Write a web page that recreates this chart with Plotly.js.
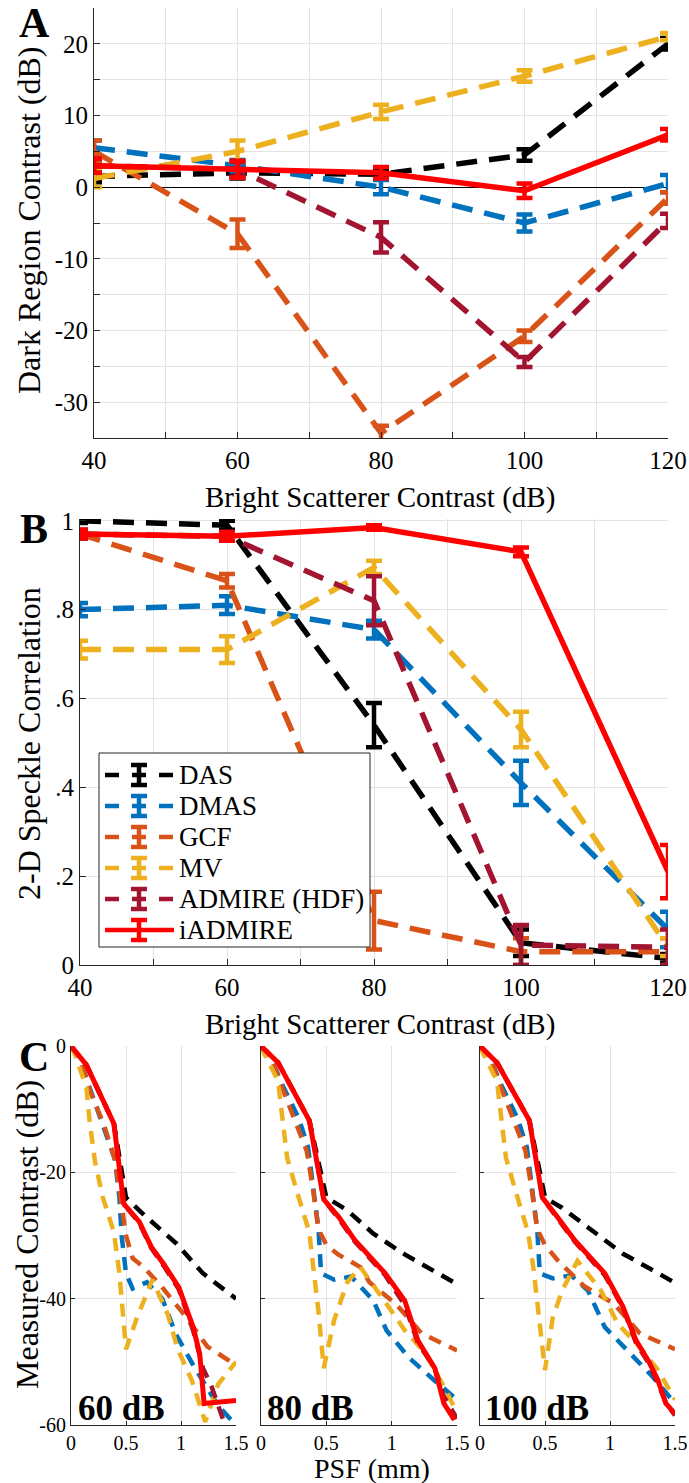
<!DOCTYPE html>
<html><head><meta charset="utf-8">
<script src="https://cdn.plot.ly/plotly-3.0.1.min.js"></script>
<style>html,body{margin:0;padding:0;background:#fff}</style>
</head><body><div id="chart" style="width:689px;height:1483px"></div>
<script>
// ---------- DATA ----------
const methods = ['DAS','DMAS','GCF','MV','ADMIRE (HDF)','iADMIRE'];
const methodColors = ['#000000','#0072BD','#D95319','#EDB120','#A2142F','#FF0000'];
const brightContrast = [40,60,80,100,120];

// Panel A: dark region contrast (dB)
const darkDAS = [1.5, 2, 1.8, 4.5, 20];
const darkDAS_err = [0.8, 0.8, 0.5, 0.8, 0.8];
const darkDMAS = [5.5, 3, 0, -5, 0.5];
const darkDMAS_err = [1, 0.8, 1, 1.2, 1.2];
const darkGCF = [5, -6.5, -34.3, -20.8, -1.5];
const darkGCF_err = [1.5, 2, 1, 0.8, 0.8];
const darkMV = [1.2, 5, 10.5, 15.5, 21];
const darkMV_err = [1.2, 1.5, 1, 0.8, 0.5];
const darkADMIRE = [3, 2.5, -7, -24.4, -4.7];
const darkADMIRE_err = [1, 1, 2.1, 0.7, 1];
const darkIADMIRE = [3, 2.5, 2, -0.5, 7.3];
const darkIADMIRE_err = [1, 1.2, 0.8, 1, 0.8];

// Panel B: 2-D speckle correlation
const corrDAS = [1.0, 0.99, 0.54, 0.05, 0.015];
const corrDAS_err = [0.005, 0.01, 0.05, 0.03, 0.01];
const corrDMAS = [0.80, 0.81, 0.755, 0.41, 0.08];
const corrDMAS_err = [0.015, 0.02, 0.02, 0.05, 0.04];
const corrGCF = [0.97, 0.865, 0.10, 0.03, 0.03];
const corrGCF_err = [0.01, 0.015, 0.065, 0.03, 0.03];
const corrMV = [0.71, 0.71, 0.895, 0.53, 0.04];
const corrMV_err = [0.02, 0.03, 0.015, 0.04, 0.02];
const corrADMIRE = [0.97, 0.965, 0.82, 0.045, 0.04];
const corrADMIRE_err = [0.01, 0.01, 0.055, 0.045, 0.04];
const corrIADMIRE = [0.97, 0.965, 0.985, 0.93, 0.21];
const corrIADMIRE_err = [0.01, 0.01, 0.005, 0.01, 0.06];

// Panel C: PSF profiles (x in mm, y in dB)
const psf60_DAS_x = [0, 0.14, 0.39, 0.48, 0.5, 0.68, 0.96, 1.2, 1.5];
const psf60_DAS_y = [0, -3, -12.3, -22, -24, -27, -31.3, -36, -40];
const psf60_DMAS_x = [0, 0.1, 0.17, 0.29, 0.4, 0.44, 0.46, 0.5, 0.56, 0.69, 0.83, 0.95, 1.12, 1.34, 1.5];
const psf60_DMAS_y = [0, -3, -6.6, -12.3, -18, -24, -30, -36, -38.4, -37.4, -40, -45.5, -50.8, -57, -60];
const psf60_GCF_x = [0, 0.1, 0.17, 0.3, 0.4, 0.45, 0.5, 0.56, 0.66, 0.82, 1.05, 1.24, 1.5];
const psf60_GCF_y = [0, -3, -7, -12.5, -18, -24, -30, -33.6, -35, -38, -43, -47.6, -50.5];
const psf60_MV_x = [0, 0.04, 0.14, 0.17, 0.22, 0.29, 0.39, 0.44, 0.5, 0.6, 0.74, 0.88, 0.97, 1.1, 1.22, 1.34, 1.5];
const psf60_MV_y = [0, -1.5, -6.6, -12, -18.5, -24, -29.5, -36, -48, -43, -37, -42.5, -48, -53, -59.5, -53.5, -50];
const psf60_ADMIRE_x = [0, 0.14, 0.39, 0.48, 0.62, 0.73, 0.85, 0.98, 1.11, 1.2, 1.28, 1.4, 1.5];
const psf60_ADMIRE_y = [0, -3, -12.3, -25, -28, -32, -35, -38.5, -45, -51, -54, -60, -64];
const psf60_IADMIRE_x = [0, 0.14, 0.39, 0.48, 0.62, 0.73, 0.85, 0.98, 1.11, 1.17, 1.21, 1.5];
const psf60_IADMIRE_y = [0, -3, -12.3, -25, -27.8, -31.8, -34.7, -38.2, -44.5, -48.7, -56.6, -56.1];

const psf80_DAS_x = [0, 0.13, 0.37, 0.48, 0.5, 0.66, 0.86, 1.1, 1.36, 1.5];
const psf80_DAS_y = [0, -2.6, -11.8, -22, -24, -26, -29.7, -33, -36, -37.7];
const psf80_DMAS_x = [0, 0.08, 0.16, 0.29, 0.36, 0.4, 0.44, 0.46, 0.56, 0.69, 0.86, 0.96, 1.13, 1.33, 1.5];
const psf80_DMAS_y = [0, -2, -6, -11.5, -16, -23, -29, -36, -37, -36.5, -40.3, -45, -49.3, -53, -56];
const psf80_GCF_x = [0, 0.08, 0.16, 0.25, 0.35, 0.4, 0.44, 0.5, 0.59, 0.76, 0.83, 1.03, 1.23, 1.5];
const psf80_GCF_y = [0, -2, -6.5, -11.3, -16.6, -23, -29, -31.5, -33, -35, -37.4, -40.8, -45.5, -48.2];
const psf80_MV_x = [0, 0.02, 0.13, 0.17, 0.2, 0.28, 0.37, 0.4, 0.44, 0.48, 0.56, 0.66, 0.76, 0.96, 1.1, 1.26, 1.36, 1.5];
const psf80_MV_y = [0, -1, -5.5, -12.3, -17.7, -23.4, -29.5, -35, -42, -51, -43.4, -37.4, -35, -40.8, -45, -48.7, -52.4, -58];
const psf80_ADMIRE_x = [0, 0.13, 0.37, 0.48, 0.6, 0.72, 0.95, 1.1, 1.2, 1.33, 1.4, 1.5];
const psf80_ADMIRE_y = [0, -2.6, -11.8, -24.3, -27.5, -31, -36.3, -41, -47, -51, -55.5, -59];
const psf80_IADMIRE_x = [0, 0.13, 0.37, 0.48, 0.6, 0.72, 0.95, 1.1, 1.2, 1.33, 1.4, 1.48];
const psf80_IADMIRE_y = [0, -2.6, -11.8, -24.3, -27.2, -30.8, -36, -40.3, -46.6, -51, -56.6, -59.2];

const psf100_DAS_x = [0, 0.13, 0.38, 0.48, 0.5, 0.63, 0.86, 1.1, 1.33, 1.5];
const psf100_DAS_y = [0, -2.6, -11.8, -22, -24, -25.6, -29.2, -32.9, -35.5, -37.5];
const psf100_DMAS_x = [0, 0.08, 0.16, 0.29, 0.36, 0.4, 0.44, 0.46, 0.56, 0.7, 0.83, 0.96, 1.13, 1.33, 1.46, 1.5];
const psf100_DMAS_y = [0, -2, -6, -11.5, -16, -23, -29, -36, -36.8, -36.3, -38.7, -44.5, -48.2, -52.4, -55.6, -56.5];
const psf100_GCF_x = [0, 0.08, 0.16, 0.25, 0.35, 0.4, 0.44, 0.5, 0.6, 0.8, 1.03, 1.23, 1.5];
const psf100_GCF_y = [0, -2, -6.5, -11.3, -16.6, -23, -29, -31.5, -34, -38, -40.8, -45.5, -48];
const psf100_MV_x = [0, 0.02, 0.13, 0.17, 0.2, 0.28, 0.37, 0.41, 0.45, 0.5, 0.56, 0.63, 0.75, 0.93, 1.06, 1.23, 1.37, 1.5];
const psf100_MV_y = [0, -1, -5.5, -12.3, -17.7, -23.4, -29.5, -35, -43, -51.3, -43, -38.8, -34, -38.7, -44, -47.7, -51.3, -56];
const psf100_ADMIRE_x = [0, 0.13, 0.38, 0.48, 0.6, 0.73, 0.96, 1.1, 1.2, 1.3, 1.37, 1.43, 1.5];
const psf100_ADMIRE_y = [0, -2.6, -11.8, -24, -27.4, -31, -36.3, -41.5, -47, -50.3, -53.5, -56.5, -58.5];
const psf100_IADMIRE_x = [0, 0.13, 0.38, 0.48, 0.6, 0.73, 0.96, 1.1, 1.2, 1.3, 1.37, 1.43, 1.5];
const psf100_IADMIRE_y = [0, -2.6, -11.8, -24, -27.2, -30.8, -36, -41.3, -46.6, -50, -53, -56.6, -58.2];

const yTicksA = [-30,-25,-20,-15,-10,-5,0,5,10,15,20];
const yTickTextA = ['-30','','-20','','-10','','0','','10','','20'];
const yTicksB = [0,0.2,0.4,0.6,0.8,1];
const yTickTextB = ['0','.2','.4','.6','.8','1'];
const xTicksAB = [40,50,60,70,80,90,100,110,120];
const xTickTextAB = ['40','','60','','80','','100','','120'];
const xTicksC = [0,0.5,1,1.5];
const xTickTextC = ['0','0.5','1','1.5'];
const yTicksC = [-60,-40,-20,0];
const yTickTextC = ['-60','-40','-20','0'];
const psfLabels = ['60 dB','80 dB','100 dB'];

// ---------- LAYOUT HELPERS ----------
const W = 689, H = 1483;
const fx = p => p / W;
const fy = p => 1 - p / H;
const FONT = 'Liberation Serif, Times New Roman, serif';
const dashAB = '21px,12px';
const dashC = '13px,9px';

const traces = [];
const darkVals = [darkDAS, darkDMAS, darkGCF, darkMV, darkADMIRE, darkIADMIRE];
const darkErrs = [darkDAS_err, darkDMAS_err, darkGCF_err, darkMV_err, darkADMIRE_err, darkIADMIRE_err];
const corrVals = [corrDAS, corrDMAS, corrGCF, corrMV, corrADMIRE, corrIADMIRE];
const corrErrs = [corrDAS_err, corrDMAS_err, corrGCF_err, corrMV_err, corrADMIRE_err, corrIADMIRE_err];

methods.forEach((m, i) => {
  const solid = i === 5;
  traces.push({
    x: brightContrast, y: darkVals[i], xaxis: 'x', yaxis: 'y', mode: 'lines', name: m, showlegend: false,
    line: {color: methodColors[i], width: 5.5, dash: solid ? 'solid' : dashAB},
    error_y: {type: 'data', array: darkErrs[i], visible: true, color: methodColors[i], thickness: 4.5, width: 8}
  });
});
methods.forEach((m, i) => {
  const solid = i === 5;
  traces.push({
    x: brightContrast, y: corrVals[i], xaxis: 'x2', yaxis: 'y2', mode: 'lines', name: m, showlegend: false,
    line: {color: methodColors[i], width: 5.5, dash: solid ? 'solid' : dashAB},
    error_y: {type: 'data', array: corrErrs[i], visible: true, color: methodColors[i], thickness: 4.5, width: 8}
  });
});

const psfSets = [
  [[psf60_DAS_x,psf60_DAS_y],[psf60_DMAS_x,psf60_DMAS_y],[psf60_GCF_x,psf60_GCF_y],[psf60_MV_x,psf60_MV_y],[psf60_ADMIRE_x,psf60_ADMIRE_y],[psf60_IADMIRE_x,psf60_IADMIRE_y]],
  [[psf80_DAS_x,psf80_DAS_y],[psf80_DMAS_x,psf80_DMAS_y],[psf80_GCF_x,psf80_GCF_y],[psf80_MV_x,psf80_MV_y],[psf80_ADMIRE_x,psf80_ADMIRE_y],[psf80_IADMIRE_x,psf80_IADMIRE_y]],
  [[psf100_DAS_x,psf100_DAS_y],[psf100_DMAS_x,psf100_DMAS_y],[psf100_GCF_x,psf100_GCF_y],[psf100_MV_x,psf100_MV_y],[psf100_ADMIRE_x,psf100_ADMIRE_y],[psf100_IADMIRE_x,psf100_IADMIRE_y]]
];
psfSets.forEach((set, k) => {
  set.forEach((d, i) => {
    traces.push({
      x: d[0], y: d[1], xaxis: 'x' + (k + 3), yaxis: 'y' + (k + 3), mode: 'lines', name: methods[i], showlegend: false,
      line: {color: methodColors[i], width: i === 5 ? 5 : 4.5, dash: i === 5 ? 'solid' : dashC}
    });
  });
});

function ax(extra) {
  return Object.assign({
    showgrid: true, gridcolor: '#e3e3e3', gridwidth: 1,
    showline: true, linecolor: '#262626', linewidth: 1,
    ticks: 'inside', ticklen: 6, tickcolor: '#262626', tickwidth: 1,
    tickfont: {family: FONT, size: 25, color: '#000'}, ticklabeloverflow: 'allow',
    zeroline: false, mirror: false, fixedrange: true, tickmode: 'array'
  }, extra);
}

// ---------- custom legend (panel B) ----------
const shapes = [];
const annotations = [];
const legTop = 753, legBottom = 947, legLeft = 99, legRight = 370;
shapes.push({type: 'rect', xref: 'paper', yref: 'paper', layer: 'above',
  x0: fx(legLeft), x1: fx(legRight), y0: fy(legBottom), y1: fy(legTop),
  line: {color: '#262626', width: 1}, fillcolor: '#fff'});
methods.forEach((m, i) => {
  const yc = 775 + i * 31;
  const c = methodColors[i];
  shapes.push({type: 'line', xref: 'paper', yref: 'paper', layer: 'above',
    x0: fx(105), x1: fx(174), y0: fy(yc), y1: fy(yc),
    line: {color: c, width: 4.5, dash: i === 5 ? 'solid' : '14px,13px'}});
  shapes.push({type: 'line', xref: 'paper', yref: 'paper', layer: 'above',
    x0: fx(139), x1: fx(139), y0: fy(yc - 10), y1: fy(yc + 10), line: {color: c, width: 4.5}});
  shapes.push({type: 'line', xref: 'paper', yref: 'paper', layer: 'above',
    x0: fx(131), x1: fx(147), y0: fy(yc - 10), y1: fy(yc - 10), line: {color: c, width: 4.5}});
  shapes.push({type: 'line', xref: 'paper', yref: 'paper', layer: 'above',
    x0: fx(131), x1: fx(147), y0: fy(yc + 10), y1: fy(yc + 10), line: {color: c, width: 4.5}});
  annotations.push({text: m, x: fx(177), y: fy(yc), xref: 'paper', yref: 'paper', xanchor: 'left', yanchor: 'middle',
    showarrow: false, font: {family: FONT, size: 27, color: '#000'}});
});

function lab(text, px, py, size, angle, xanchor) {
  return {text: text, x: fx(px), y: fy(py), xref: 'paper', yref: 'paper', showarrow: false,
    xanchor: xanchor || 'center', yanchor: 'middle', textangle: angle || 0,
    font: {family: FONT, size: size, color: '#000'}};
}
annotations.push(
  lab('<b>A</b>', 34, 23, 42),
  lab('<b>B</b>', 34, 529, 42),
  lab('<b>C</b>', 34, 1057, 42),
  lab('Dark Region Contrast (dB)', 29, 220, 32, -90),
  lab('Bright Scatterer Contrast (dB)', 380, 497, 29),
  lab('2-D Speckle Correlation', 29, 744, 32, -90),
  lab('Bright Scatterer Contrast (dB)', 380, 1024, 29),
  lab('Measured Contrast (dB)', 27, 1235, 32, -90),
  lab('PSF (mm)', 372, 1468, 28),
  lab('<b>' + psfLabels[0] + '</b>', 76, 1408, 35, 0, 'left'),
  lab('<b>' + psfLabels[1] + '</b>', 265, 1408, 35, 0, 'left'),
  lab('<b>' + psfLabels[2] + '</b>', 483, 1408, 35, 0, 'left')
);

const cTick = {family: FONT, size: 20, color: '#000'};
const layout = {
  width: W, height: H,
  margin: {l: 0, r: 0, t: 0, b: 0},
  paper_bgcolor: '#fff', plot_bgcolor: '#fff',
  font: {family: FONT, color: '#000'},
  showlegend: false,
  xaxis: ax({domain: [fx(94), fx(668)], anchor: 'y', range: [40, 120], tickvals: xTicksAB, ticktext: xTickTextAB}),
  yaxis: ax({domain: [fy(438), fy(8)], anchor: 'x', range: [-35, 25], tickvals: yTicksA, ticktext: yTickTextA,
             zeroline: true, zerolinecolor: '#000', zerolinewidth: 1}),
  xaxis2: ax({domain: [fx(80), fx(668)], anchor: 'y2', range: [40, 120], tickvals: xTicksAB, ticktext: xTickTextAB}),
  yaxis2: ax({domain: [fy(965), fy(519)], anchor: 'x2', range: [0, 1.004], tickvals: yTicksB, ticktext: yTickTextB}),
  xaxis3: ax({domain: [fx(71), fx(236)], anchor: 'y3', range: [0, 1.5], tickvals: xTicksC, ticktext: xTickTextC, ticklen: 4, tickfont: cTick}),
  yaxis3: ax({domain: [fy(1425), fy(1046)], anchor: 'x3', range: [-60, 0], tickvals: yTicksC, ticktext: yTickTextC, ticklen: 4, tickfont: cTick}),
  xaxis4: ax({domain: [fx(261), fx(457)], anchor: 'y4', range: [0, 1.5], tickvals: xTicksC, ticktext: xTickTextC, ticklen: 4, tickfont: cTick}),
  yaxis4: ax({domain: [fy(1425), fy(1046)], anchor: 'x4', range: [-60, 0], tickvals: yTicksC, ticktext: yTickTextC, ticklen: 4, showticklabels: false}),
  xaxis5: ax({domain: [fx(480), fx(675)], anchor: 'y5', range: [0, 1.5], tickvals: xTicksC, ticktext: xTickTextC, ticklen: 4, tickfont: cTick}),
  yaxis5: ax({domain: [fy(1425), fy(1046)], anchor: 'x5', range: [-60, 0], tickvals: yTicksC, ticktext: yTickTextC, ticklen: 4, showticklabels: false}),
  shapes: shapes,
  annotations: annotations
};

Plotly.newPlot('chart', traces, layout, {displayModeBar: false, staticPlot: true});
</script></body></html>
